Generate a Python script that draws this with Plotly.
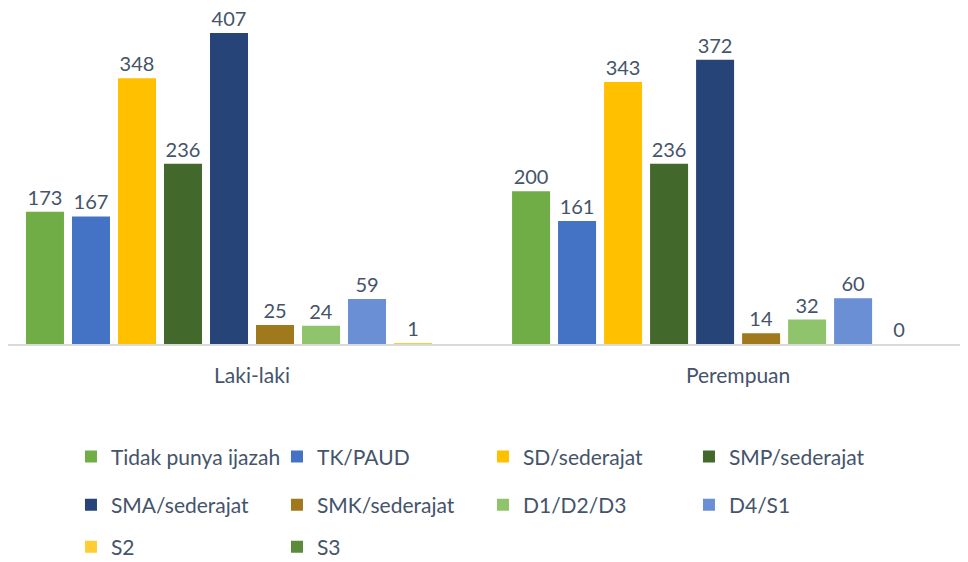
import plotly.graph_objects as go

categories = ["Laki-laki", "Perempuan"]
series_names = ["Tidak punya ijazah", "TK/PAUD", "SD/sederajat", "SMP/sederajat",
                "SMA/sederajat", "SMK/sederajat", "D1/D2/D3", "D4/S1", "S2", "S3"]
tidak_punya_ijazah = [173, 200]
tk_paud = [167, 161]
sd_sederajat = [348, 343]
smp_sederajat = [236, 236]
sma_sederajat = [407, 372]
smk_sederajat = [25, 14]
d1_d2_d3 = [24, 32]
d4_s1 = [59, 60]
s2 = [1, 0]
s3 = [None, None]

values = [tidak_punya_ijazah, tk_paud, sd_sederajat, smp_sederajat, sma_sederajat,
          smk_sederajat, d1_d2_d3, d4_s1, s2, s3]
colors = ["#70AD47", "#4472C4", "#FFC000", "#43682B", "#264478",
          "#A0791C", "#90C46C", "#6B8FD4", "#FFCD33", "#5A8A3A"]

TXT = "#44546A"
FONT = "Lato"

fig = go.Figure()
legend_ids = ["legend"] * 4 + ["legend2"] * 4 + ["legend3"] * 2
for name, vals, col, lg in zip(series_names, values, colors, legend_ids):
    fig.add_trace(go.Bar(
        x=[0, 1], y=vals, name=name, marker=dict(color=col, line=dict(width=0)),
        text=[("" if v is None else str(v)) for v in vals],
        textposition="outside", cliponaxis=False,
        textfont=dict(family=FONT, size=20, color=TXT),
        legend=lg,
    ))

legend_common = dict(orientation="h", xanchor="left", yanchor="middle",
                     entrywidth=161, entrywidthmode="pixels",
                     font=dict(family=FONT, size=21, color=TXT),
                     bgcolor="rgba(0,0,0,0)", itemclick=False)

fig.update_layout(
    width=960, height=554,
    margin=dict(l=0, r=0, t=2, b=218, autoexpand=False),
    paper_bgcolor="white", plot_bgcolor="white",
    barmode="group", bargap=0.0535, bargroupgap=0.174,
    font=dict(family=FONT, color=TXT),
    legend=dict(x=0.0656, y=-0.338, **legend_common),
    legend2=dict(x=0.0656, y=-0.482, **legend_common),
    legend3=dict(x=0.0656, y=-0.608, **legend_common),
    xaxis=dict(range=[-0.502, 1.473], tickmode="array", tickvals=[0, 1],
               ticktext=categories, showgrid=False, zeroline=False,
               showline=True, linecolor="#D9D9D9", linewidth=2,
               ticks="", ticklabelstandoff=12, automargin=False,
               tickfont=dict(family=FONT, size=21, color=TXT)),
    yaxis=dict(range=[0, 437.2], visible=False, showgrid=False, zeroline=False,
               automargin=False),
)

fig.write_html("out.html")
